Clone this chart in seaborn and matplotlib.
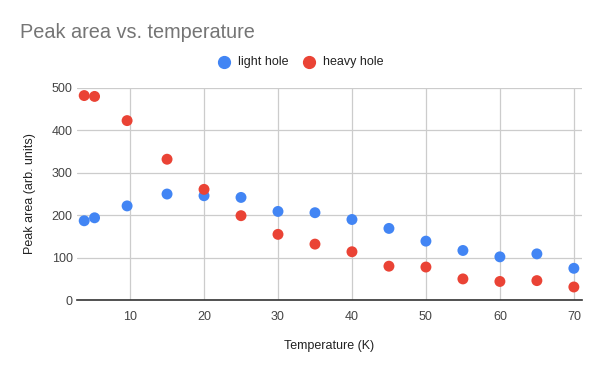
import pandas as pd
import numpy as np
import seaborn as sns
import matplotlib.pyplot as plt
from matplotlib.lines import Line2D

# Datos
temperature = [3.8, 5.2, 9.6, 15, 20, 25, 30, 35, 40, 45, 50, 55, 60, 65, 70]
light_hole = [187, 194, 222, 250, 246, 242, 209, 206, 190, 169, 139, 117, 102, 109, 75]
heavy_hole = [482, 480, 423, 332, 261, 199, 155, 132, 114, 80, 78, 50, 44, 46, 31]
series_names = ["light hole", "heavy hole"]
x_ticks = [10, 20, 30, 40, 50, 60, 70]
y_ticks = [0, 100, 200, 300, 400, 500]

df = pd.DataFrame({
    "Temperature (K)": temperature * 2,
    "Peak area": light_hole + heavy_hole,
    "serie": [series_names[0]] * len(temperature) + [series_names[1]] * len(temperature),
})

sns.set_style("white")
plt.rcParams["font.family"] = ["Liberation Sans", "DejaVu Sans"]

fig = plt.figure(figsize=(6, 3.71), dpi=100)
ax = fig.add_axes([0.128, 0.191, 0.842, 0.572])

palette = {"light hole": "#4285F4", "heavy hole": "#EA4335"}
sns.scatterplot(data=df, x="Temperature (K)", y="Peak area", hue="serie",
                palette=palette, s=62, linewidth=0, ax=ax, legend=False, zorder=3)

ax.set_xlim(2.8, 71.1)
ax.set_ylim(0, 500)
ax.set_xticks(x_ticks)
ax.set_yticks(y_ticks)
ax.grid(True, color="#cccccc", linewidth=0.9)
ax.set_axisbelow(True)
for side in ["top", "right", "left"]:
    ax.spines[side].set_visible(False)
ax.spines["bottom"].set_color("#333333")
ax.spines["bottom"].set_linewidth(1.2)
ax.tick_params(axis="both", length=0, labelsize=9, labelcolor="#444444")
ax.tick_params(axis="x", pad=8)
ax.tick_params(axis="y", pad=3)

ax.set_xlabel("Temperature (K)", fontsize=9, color="#222222", labelpad=12)
ax.set_ylabel("Peak area (arb. units)", fontsize=9, color="#222222", labelpad=11)

fig.text(20 / 600, 1 - 32 / 371, "Peak area vs. temperature", fontsize=14.3,
         color="#757575", va="center", ha="left")

# Leyenda manual arriba
for i, name in enumerate(series_names):
    cx = [224, 309][i] / 600
    fig.add_artist(Line2D([cx], [1 - 62 / 371], marker="o", markersize=8.5,
                          color=palette[name], linestyle="none",
                          transform=fig.transFigure))
    fig.text(cx + 14 / 600, 1 - 62 / 371, name, fontsize=9, color="#222222",
             ha="left", va="center")

plt.savefig("out.png", dpi=100)
